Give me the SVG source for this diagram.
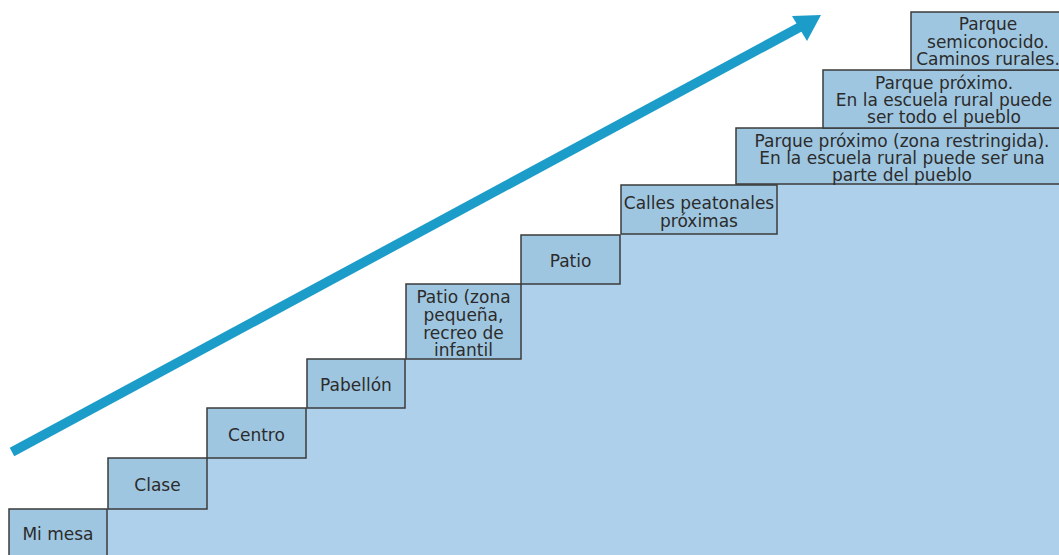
<svg xmlns="http://www.w3.org/2000/svg" width="1059" height="555" viewBox="0 0 1059 555">
<style>
.bg{fill:#afd0ea;}
.box{fill:#9fc6e0;stroke:#3b3b3b;stroke-width:1.5;}
.t{font-family:"DejaVu Sans","Liberation Sans",sans-serif;font-size:17px;fill:#2b2b2b;text-anchor:middle;}
</style>
<rect width="1059" height="555" fill="#ffffff"/>
<polygon class="bg" points="9,555 9,509 108,509 108,458 207,458 207,408 307,408 307,359 406,359 406,284 521,284 521,235 621,235 621,185 736,185 736,128 823,128 823,70 911,70 911,12 1059,12 1059,555"/>
<g id="connectors">
<line x1="12" y1="452" x2="800" y2="27" stroke="#1c9dc9" stroke-width="9.5"/>
<polygon points="821,15 792,16 807,41" fill="#1c9dc9"/>
</g>
<g id="n1"><rect class="box" x="9" y="509" width="98" height="50"/><text class="t" x="58" y="540">Mi mesa</text></g>
<g id="n2"><rect class="box" x="108" y="458" width="99" height="51"/><text class="t" x="157.5" y="491">Clase</text></g>
<g id="n3"><rect class="box" x="207" y="408" width="99" height="50"/><text class="t" x="256.5" y="441">Centro</text></g>
<g id="n4"><rect class="box" x="307" y="359" width="98" height="49"/><text class="t" x="356" y="391">Pabellón</text></g>
<g id="n5"><rect class="box" x="406" y="284" width="115" height="75"/><text class="t" x="463.5" y="303">Patio (zona</text><text class="t" x="463.5" y="321">pequeña,</text><text class="t" x="463.5" y="339">recreo de</text><text class="t" x="463.5" y="356">infantil</text></g>
<g id="n6"><rect class="box" x="521" y="235" width="99" height="49"/><text class="t" x="570.5" y="267">Patio</text></g>
<g id="n7"><rect class="box" x="621" y="185" width="156" height="49"/><text class="t" x="699" y="209">Calles peatonales</text><text class="t" x="699" y="227">próximas</text></g>
<g id="n8"><rect class="box" x="736" y="128" width="332" height="56"/><text class="t" x="902" y="147">Parque próximo (zona restringida).</text><text class="t" x="902" y="164">En la escuela rural puede ser una</text><text class="t" x="902" y="181">parte del pueblo</text></g>
<g id="n9"><rect class="box" x="823" y="70" width="245" height="58"/><text class="t" x="944" y="89">Parque próximo.</text><text class="t" x="944" y="106">En la escuela rural puede</text><text class="t" x="944" y="123">ser todo el pueblo</text></g>
<g id="n10"><rect class="box" x="911" y="12" width="157" height="58"/><text class="t" x="988" y="30">Parque</text><text class="t" x="988" y="48">semiconocido.</text><text class="t" x="988" y="65">Caminos rurales.</text></g>
</svg>
